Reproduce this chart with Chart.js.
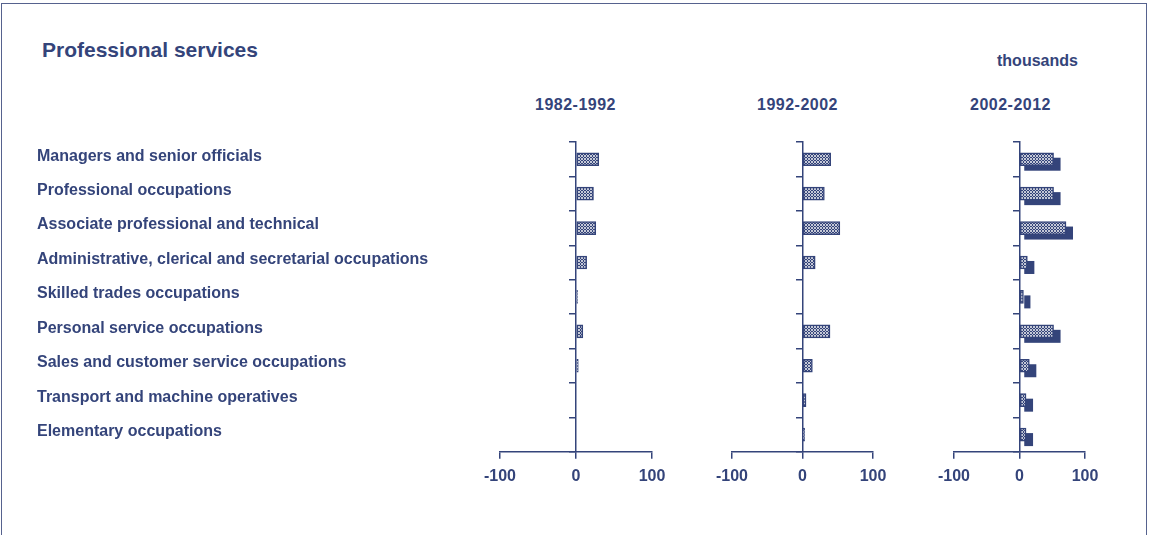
<!DOCTYPE html>
<html>
<head>
<meta charset="utf-8">
<script src="https://cdn.jsdelivr.net/npm/chart.js@4"></script>
<style>
  body { margin: 0; background: #fff; width: 1151px; height: 535px; overflow: hidden; position: relative; font-family: "Liberation Sans", Arial, sans-serif; color: #34447a; }
  .frame { position: absolute; left: 1px; top: 3px; width: 1146px; height: 540px; border: 1px solid #56628e; box-sizing: border-box; }
  .txt { position: absolute; white-space: nowrap; font-size: 16px; font-weight: bold; }
  .title { position: absolute; left: 42px; top: 38px; font-size: 21px; font-weight: bold; color: #34447a; }
  canvas { position: absolute; top: 0; }
</style>
</head>
<body>
<div class="frame"></div>
<div class="title">Professional services</div>
<div class="txt" style="left:997px; top:52px;">thousands</div>
<div class="txt" style="left:535px; top:96px; letter-spacing:0.5px;">1982-1992</div>
<div class="txt" style="left:757px; top:96px; letter-spacing:0.5px;">1992-2002</div>
<div class="txt" style="left:970px; top:96px; letter-spacing:0.5px;">2002-2012</div>

<canvas id="c1"></canvas>
<canvas id="c2"></canvas>
<canvas id="c3"></canvas>

<script>
// occupations, top to bottom
const categories = [
    'Managers and senior officials',
    'Professional occupations',
    'Associate professional and technical',
    'Administrative, clerical and secretarial occupations',
    'Skilled trades occupations',
    'Personal service occupations',
    'Sales and customer service occupations',
    'Transport and machine operatives',
    'Elementary occupations'
];

// change in employment, thousands
const change1982_1992 = [30, 23, 26, 14, 2, 9, 3, 0, 0];
const change1992_2002 = [40, 31, 53, 18, 0, 39, 14, 5, 3];
const change2002_2012 = [52, 52, 71, 12, 6, 52, 15, 10, 10];

const periods = ['1982-1992', '1992-2002', '2002-2012'];
const xTicks = [-100, 0, 100];

const navy = '#34447a';
const fontFamily = '"Liberation Sans", Arial, sans-serif';

function makePattern() {
    const p = document.createElement('canvas');
    p.width = 3; p.height = 3;
    const g = p.getContext('2d');
    g.fillStyle = navy;
    g.fillRect(0, 0, 3, 3);
    g.fillStyle = '#c4c8d6';
    g.fillRect(0, 0, 1, 1);
    g.fillRect(2, 0, 1, 1);
    g.fillRect(1, 1, 1, 1);
    g.fillRect(0, 2, 1, 1);
    g.fillRect(2, 2, 1, 1);
    return document.getElementById('c1').getContext('2d').createPattern(p, 'repeat');
}

// category labels on the far left, placed on chart 1's y scale
const labelPlugin = {
    id: 'catLabels',
    afterDraw(chart) {
        const ctx = chart.ctx;
        const y = chart.scales.y;
        ctx.save();
        ctx.font = 'bold 16px ' + fontFamily;
        ctx.fillStyle = navy;
        ctx.textBaseline = 'middle';
        ctx.textAlign = 'left';
        categories.forEach((c, i) => {
            ctx.fillText(c, 37, y.getPixelForValue(i) - 3);
        });
        ctx.restore();
    }
};

// dark drop shadow behind the bars (third panel)
const shadowPlugin = {
    id: 'barShadow',
    beforeDatasetsDraw(chart) {
        const ctx = chart.ctx;
        const meta = chart.getDatasetMeta(0);
        ctx.save();
        ctx.fillStyle = navy;
        meta.data.forEach(bar => {
            const w = bar.x - bar.base;
            if (w <= 0) return;
            const h = bar.height;
            ctx.fillRect(bar.base + 4, bar.y - h / 2 + 5, w + 3, h);
        });
        ctx.restore();
    }
};

function buildChart(id, data, box, plugins) {
    const canvas = document.getElementById(id);
    canvas.style.left = box.left + 'px';
    canvas.width = box.width;
    canvas.height = 535;
    canvas.style.width = box.width + 'px';
    canvas.style.height = '535px';

    return new Chart(canvas, {
        type: 'bar',
        data: {
            labels: categories,
            datasets: [{
                data: data,
                backgroundColor: makePattern(),
                borderColor: navy,
                borderWidth: 1.5,
                borderSkipped: false,
                barThickness: 13
            }]
        },
        options: {
            indexAxis: 'y',
            responsive: false,
            animation: false,
            layout: {
                padding: { left: box.padLeft, right: box.padRight, top: 142, bottom: 41 }
            },
            plugins: {
                legend: { display: false },
                tooltip: { enabled: false }
            },
            scales: {
                x: {
                    min: -100,
                    max: 100,
                    afterBuildTicks: axis => { axis.ticks = xTicks.map(v => ({ value: v })); },
                    grid: { drawOnChartArea: false, tickLength: 7, color: navy, lineWidth: 1.5 },
                    border: { color: navy, width: 1.5 },
                    ticks: {
                        padding: 8,
                        color: navy,
                        font: { size: 16, weight: 'bold', family: fontFamily },
                        maxRotation: 0
                    }
                },
                y: {
                    position: { x: 0 },
                    grid: { drawOnChartArea: false, tickLength: 6, color: navy, lineWidth: 1.5, offset: true },
                    border: { color: navy, width: 1.5 },
                    ticks: { display: false }
                }
            }
        },
        plugins: plugins
    });
}

buildChart('c1', change1982_1992, { left: 0, width: 682, padLeft: 500, padRight: 30 }, [labelPlugin]);
buildChart('c2', change1992_2002, { left: 692, width: 221, padLeft: 40, padRight: 40 }, []);
buildChart('c3', change2002_2012, { left: 914, width: 211, padLeft: 40, padRight: 40 }, [shadowPlugin]);
</script>
</body>
</html>
